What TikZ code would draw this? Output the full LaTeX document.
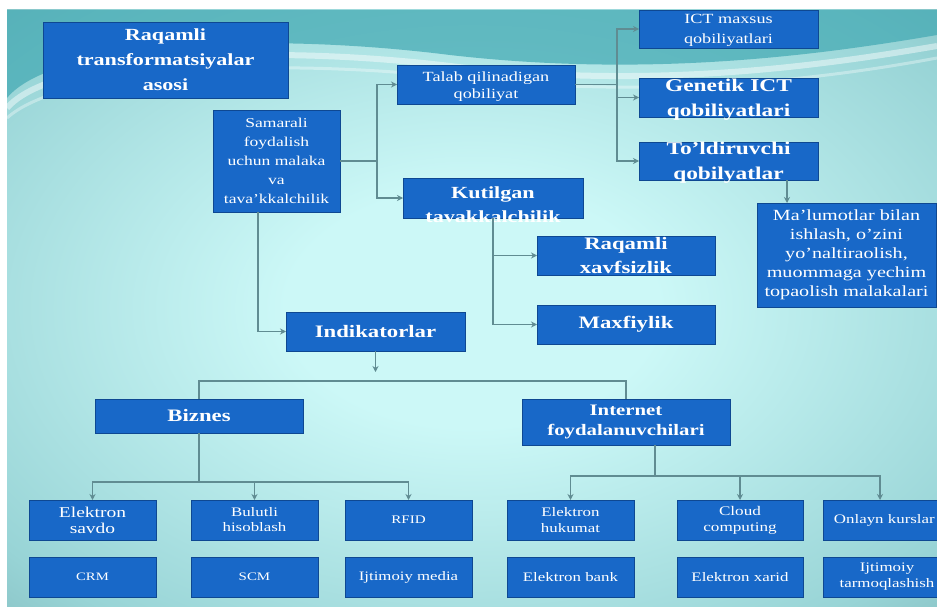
\documentclass[tikz,border=0pt]{standalone}
\usepackage{fontspec}
\setmainfont{Liberation Serif}[FakeStretch=1.3]
\usetikzlibrary{arrows.meta,fit,calc}
\definecolor{boxblue}{RGB}{24,104,200}
\definecolor{boxedge}{RGB}{14,72,146}
\definecolor{lineteal}{RGB}{96,140,146}
\definecolor{bgin}{RGB}{204,248,247}
\definecolor{bgmid}{RGB}{152,212,214}
\definecolor{bgout}{RGB}{88,138,142}
\definecolor{bandteal}{RGB}{64,168,178}
\pgfdeclareradialshading{bgshade}{\pgfpoint{0bp}{0bp}}{color(0bp)=(bgin); color(10bp)=(bgin); color(32bp)=(bgmid); color(55bp)=(bgout); color(80bp)=(bgout)}
\newcommand{\fs}[2]{\fontsize{#1}{#2}\selectfont}
\tikzset{
  box/.style={draw=boxedge, line width=0.8pt, fill=boxblue, inner sep=0pt, outer sep=0pt},
  txt/.style={text=white, align=center, inner sep=0pt},
  conn/.style={draw=lineteal, line width=1.5pt},
  arr/.style={conn, -{Stealth[length=6pt,width=6pt]}},
}
\begin{document}
\begin{tikzpicture}[x=1pt,y=-1pt]
\useasboundingbox (0,0) rectangle (937,610);
% background
\fill[white] (0,0) rectangle (937,610);
\shade[shading=bgshade] (7,10) rectangle (937,606);
\fill[bandteal, opacity=0.7] (7,10) -- (7,98) .. controls (50,45) and (250,30) .. (450,55) .. controls (650,78) and (820,55) .. (937,35) -- (937,10) -- cycle;
\draw[white, opacity=0.45, line width=6pt] (7,108) .. controls (50,58) and (250,42) .. (450,66) .. controls (650,90) and (820,66) .. (937,46);
\draw[white, opacity=0.35, line width=3pt] (7,118) .. controls (60,70) and (260,56) .. (460,78) .. controls (660,100) and (830,78) .. (937,58);

% boxes
\node[box, fit={(43,22) (288,98)}] (title) {};
\node[box, fit={(213,110) (340,212)}] (sam) {};
\node[box, fit={(397,65) (575,104)}] (tal) {};
\node[box, fit={(403,178) (583,218)}] (kut) {};
\node[box, fit={(639,10) (818,48)}] (ict) {};
\node[box, fit={(639,78) (818,117)}] (gen) {};
\node[box, fit={(639,142) (818,180)}] (tol) {};
\node[box, fit={(757,203) (936,307)}] (mal) {};
\node[box, fit={(537,236) (715,275)}] (rx) {};
\node[box, fit={(537,305) (715,344)}] (mx) {};
\node[box, fit={(286,312) (465,351)}] (ind) {};
\node[box, fit={(95,399) (303,433)}] (biz) {};
\node[box, fit={(522,399) (730,445)}] (int) {};
\node[box, fit={(29,500) (156,540)}] (es) {};
\node[box, fit={(191,500) (318,540)}] (bh) {};
\node[box, fit={(345,500) (472,540)}] (rf) {};
\node[box, fit={(507,500) (634,540)}] (eh) {};
\node[box, fit={(677,500) (803,540)}] (cc) {};
\node[box, fit={(823,500) (950,540)}] (ok) {};
\node[box, fit={(29,557) (156,597)}] (crm) {};
\node[box, fit={(191,557) (318,597)}] (scm) {};
\node[box, fit={(345,557) (472,597)}] (ijm) {};
\node[box, fit={(507,557) (634,597)}] (eb) {};
\node[box, fit={(677,557) (803,597)}] (ex) {};
\node[box, fit={(823,557) (950,597)}] (it) {};

% texts
\node[txt, font=\fs{17}{25}\bfseries] (titleT) at (title.center) {Raqamli\\transformatsiyalar\\asosi};
\node[txt, font=\fs{13.5}{19}] (samT) at (sam.center) {Samarali\\foydalish\\uchun malaka\\va\\tava'kkalchilik};
\node[txt, font=\fs{14}{17}] (talT) at ([yshift=-2]tal.center) {Talab qilinadigan\\qobiliyat};
\node[txt, font=\fs{17}{24}\bfseries] (kutT) at ([yshift=-7]kut.center) {Kutilgan\\tavakkalchilik};
\node[txt, font=\fs{14}{20}] (ictT) at ([yshift=-1.5]ict.center) {ICT maxsus\\qobiliyatlari};
\node[txt, font=\fs{18}{25}\bfseries] (genT) at ([yshift=-2]gen.center) {Genetik ICT\\qobiliyatlari};
\node[txt, font=\fs{18}{25}\bfseries] (tolT) at ([yshift=-2]tol.center) {To'ldiruvchi\\qobilyatlar};
\node[txt, font=\fs{15.5}{19}] (malT) at (mal.center) {Ma'lumotlar bilan\\ishlash, o'zini\\yo'naltiraolish,\\muommaga yechim\\topaolish malakalari};
\node[txt, font=\fs{17.5}{24}\bfseries] (rxT) at (rx.center) {Raqamli\\xavfsizlik};
\node[txt, font=\fs{17.5}{23}\bfseries] (mxT) at (mx.center) {Maxfiylik};
\node[txt, font=\fs{17.5}{22}\bfseries] (indT) at (ind.center) {Indikatorlar};
\node[txt, font=\fs{17.5}{21}\bfseries] (bizT) at (biz.center) {Biznes};
\node[txt, font=\fs{16}{20}\bfseries] (intT) at (int.center) {Internet\\foydalanuvchilari};
\node[txt, font=\fs{15}{16}] (esT) at (es.center) {Elektron\\savdo};
\node[txt, font=\fs{13}{15}] (bhT) at (bh.center) {Bulutli\\hisoblash};
\node[txt, font=\fs{11.6}{15}] (rfT) at (rf.center) {RFID};
\node[txt, font=\fs{13}{16}] (ehT) at (eh.center) {Elektron\\hukumat};
\node[txt, font=\fs{13.2}{16}] (ccT) at (cc.center) {Cloud\\computing};
\node[txt, font=\fs{13}{16}, anchor=east] (okT) at (935,520) {Onlayn kurslar};
\node[txt, font=\fs{11.3}{15}] (crmT) at (crm.center) {CRM};
\node[txt, font=\fs{11.5}{15}] (scmT) at (scm.center) {SCM};
\node[txt, font=\fs{12.9}{15}] (ijmT) at (ijm.center) {Ijtimoiy media};
\node[txt, font=\fs{13}{15}] (ebT) at (eb.center) {Elektron bank};
\node[txt, font=\fs{13}{15}] (exT) at (ex.center) {Elektron xarid};
\node[txt, font=\fs{13}{16}] (itT) at (887,577) {Ijtimoiy\\tarmoqlashish};

% connectors
\coordinate (j1) at (377,161);
\draw[conn] (sam.east) -- (j1);
\draw[arr] (j1) |- (tal.west);
\draw[arr] (j1) |- (kut.west);

\coordinate (j2) at (617,84.5);
\draw[conn] (tal.east) -- (j2);
\draw[arr] (j2) |- (ict.west);
\draw[arr] (j2) |- (gen.west);
\draw[arr] (j2) |- (tol.west);

\draw[arr] ([xshift=58.5]tol.south) -- ([xshift=58.5]tol.south |- mal.north);

\coordinate (j4) at (493,324.5);
\draw[conn] (kut.south) -- (j4);
\draw[arr] (kut.south |- rx.west) -- (rx.west);
\draw[arr] (j4) -- (mx.west);

\coordinate (j5) at ([xshift=-18.5]sam.south);
\draw[arr] (j5) |- (ind.west);

\coordinate (j6) at (375.5,372);
\draw[arr] (ind.south) -- (j6);
\coordinate (hb) at (199,381);
\draw[conn] (biz.north) -- (hb) -| (int.north);

\coordinate (b1) at (199,482);
\draw[conn] (biz.south) -- (b1);
\draw[arr] (b1) -| (es.north);
\draw[arr] (b1) -| (rf.north);
\draw[arr] (bh.north |- b1) -- (bh.north);

\coordinate (i0) at ([xshift=29]int.south);
\coordinate (i1) at (655,476);
\draw[conn] (i0) -- (i1);
\draw[arr] (i1) -| (eh.north);
\draw[arr] (i1) -| (880,500);
\draw[arr] (cc.north |- i1) -- (cc.north);
\end{tikzpicture}
\end{document}
